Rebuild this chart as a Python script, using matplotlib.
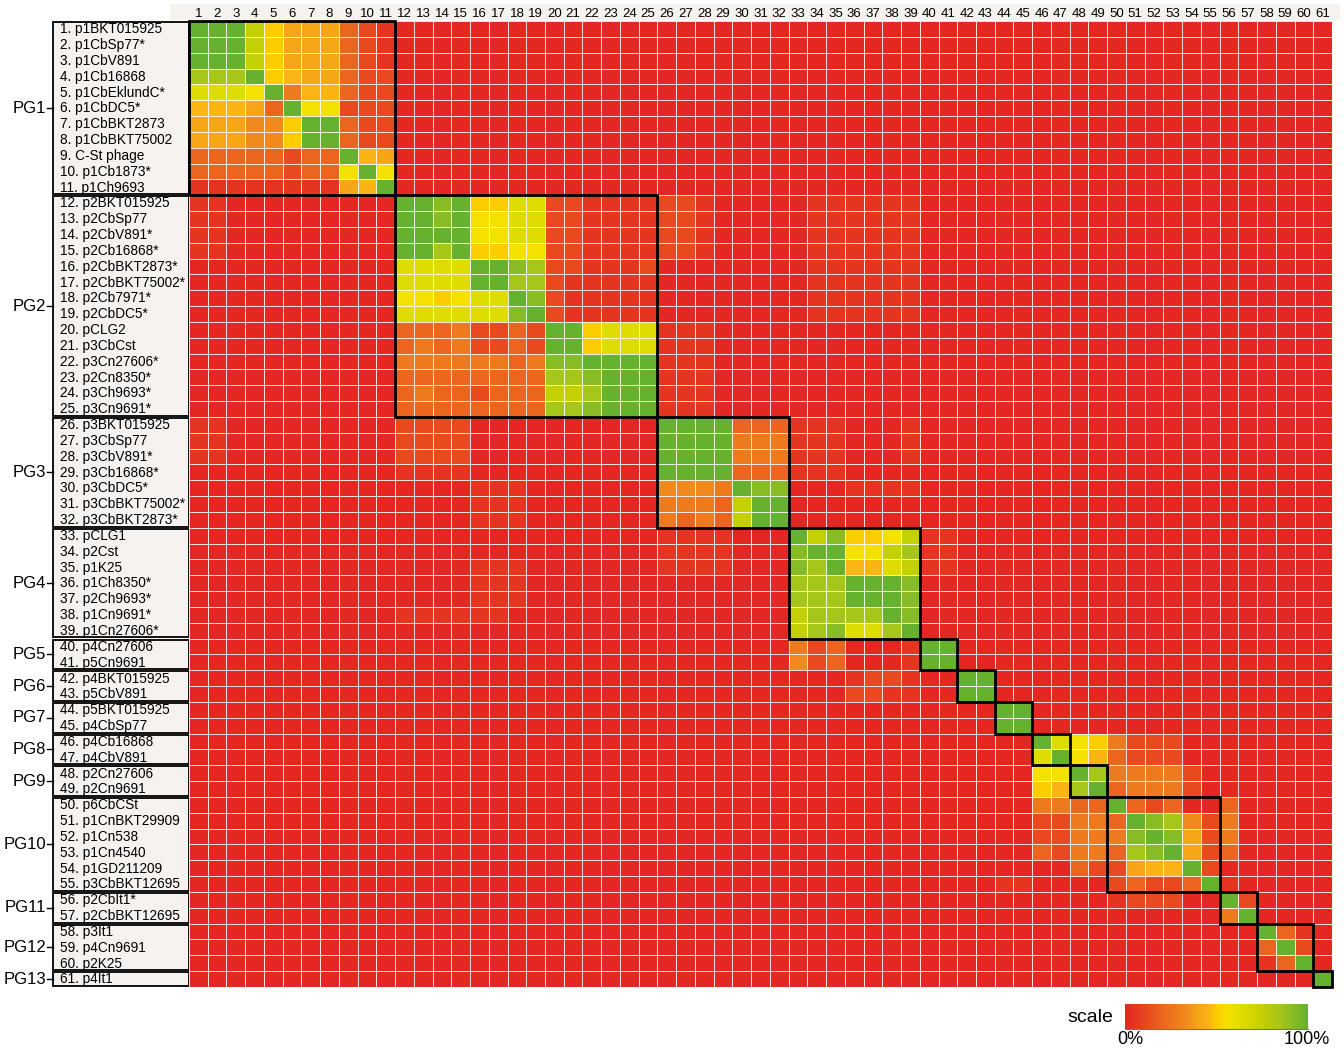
import numpy as np
import matplotlib
matplotlib.use("Agg")
import matplotlib.pyplot as plt
from matplotlib.colors import LinearSegmentedColormap
from matplotlib.patches import Rectangle

plt.rcParams['font.family'] = ['Liberation Sans', 'DejaVu Sans']

# ---------------- data ----------------
strain_names = [
    "p1BKT015925", "p1CbSp77*", "p1CbV891", "p1Cb16868", "p1CbEklundC*", "p1CbDC5*",
    "p1CbBKT2873", "p1CbBKT75002", "C-St phage", "p1Cb1873*", "p1Ch9693",
    "p2BKT015925", "p2CbSp77", "p2CbV891*", "p2Cb16868*", "p2CbBKT2873*", "p2CbBKT75002*",
    "p2Cb7971*", "p2CbDC5*", "pCLG2", "p3CbCst", "p3Cn27606*", "p2Cn8350*", "p3Ch9693*",
    "p3Cn9691*",
    "p3BKT015925", "p3CbSp77", "p3CbV891*", "p3Cb16868*", "p3CbDC5*", "p3CbBKT75002*",
    "p3CbBKT2873*",
    "pCLG1", "p2Cst", "p1K25", "p1Ch8350*", "p2Ch9693*", "p1Cn9691*", "p1Cn27606*",
    "p4Cn27606", "p5Cn9691", "p4BKT015925", "p5CbV891", "p5BKT015925", "p4CbSp77",
    "p4Cb16868", "p4CbV891", "p2Cn27606", "p2Cn9691",
    "p6CbCSt", "p1CnBKT29909", "p1Cn538", "p1Cn4540", "p1GD211209", "p3CbBKT12695",
    "p2CbIt1*", "p2CbBKT12695", "p3It1", "p4Cn9691", "p2K25", "p4It1",
]
group_names = ["PG1", "PG2", "PG3", "PG4", "PG5", "PG6", "PG7", "PG8", "PG9",
               "PG10", "PG11", "PG12", "PG13"]
group_sizes = [11, 14, 7, 7, 2, 2, 2, 2, 2, 6, 2, 3, 1]

# similarity level codes (row i, column j)
level_pct = {"0": 0, "1": 5, "2": 12, "3": 20, "4": 27, "5": 33, "6": 40, "7": 46,
             "8": 50, "9": 56, "A": 65, "B": 75, "C": 85, "D": 92, "G": 100}
level_colors = ["#E32722", "#E5351F", "#E84A1F", "#EC651F", "#EE7A1E", "#F08A1C",
                "#F5A516", "#FAB514", "#FDCC00", "#F5E100", "#DEDC00", "#C4D000",
                "#A6C61A", "#88BC24", "#66B22E"]

matrix_rows = [
 "GGGB8666321 00000000000000 0000000 0000000 00 00 00 00 00 000000 00 000 0",
 "GGGB8666321 00000000000000 0000000 0000000 00 00 00 00 00 000000 00 000 0",
 "GGGB8666321 00000000000000 0000000 0000000 00 00 00 00 00 000000 00 000 0",
 "CCCG8766322 00000000000000 0000000 0000000 00 00 00 00 00 000000 00 000 0",
 "AAA9G477322 00000000000000 0000000 0000000 00 00 00 00 00 000000 00 000 0",
 "77763G99222 00000000000000 0000000 0000000 00 00 00 00 00 000000 00 000 0",
 "666558GG322 00000000000000 0000000 0000000 00 00 00 00 00 000000 00 000 0",
 "666558GG322 00000000000000 0000000 0000000 00 00 00 00 00 000000 00 000 0",
 "33333233G76 00000000000000 0000000 0000000 00 00 00 00 00 000000 00 000 0",
 "333332339G9 00000000000000 0000000 0000000 00 00 00 00 00 000000 00 000 0",
 "1111111167G 00000000000000 0000000 0000000 00 00 00 00 00 000000 00 000 0",
 "11000000000 GGDG88AA221111 2210000 0111111 00 00 00 00 00 000000 00 000 0",
 "11000000000 GGDG99AA221111 2210000 0111111 00 00 00 00 00 000000 00 000 0",
 "11000000000 GGGG99AA221111 2210000 0111111 00 00 00 00 00 000000 00 000 0",
 "11000000000 GGCG8899221111 2210000 0111111 00 00 00 00 00 000000 00 000 0",
 "00000000000 AAAAGGDC221112 0000000 0111111 00 00 00 00 00 000000 00 000 0",
 "00000000000 AAAAGGCC211111 0000000 0111111 00 00 00 00 00 000000 00 000 0",
 "00000000000 9989AAGD211111 0000000 0111111 00 00 00 00 00 000000 00 000 0",
 "00000000000 AAAAAADG211111 0000000 0111111 00 00 00 00 00 000000 00 000 0",
 "00000000000 33342232GG8AAA 1110000 0000000 00 00 00 00 00 000000 00 000 0",
 "00000000000 34342232GG8AAA 1110000 0000000 00 00 00 00 00 000000 00 000 0",
 "00000000000 44444434DDGGGG 1110000 0000000 00 00 00 00 00 000000 00 000 0",
 "00000000000 33333333CCDGGG 1110000 0000000 00 00 00 00 00 000000 00 000 0",
 "00000000000 34332333BBCGGG 1110000 0000000 00 00 00 00 00 000000 00 000 0",
 "00000000000 33333333CCDGGG 1110000 0000000 00 00 00 00 00 000000 00 000 0",
 "11000000000 22220000000000 GGGG333 1110001 00 00 00 00 00 000000 00 000 0",
 "11000000000 22220000000000 GGGG444 1110001 00 00 00 00 00 000000 00 000 0",
 "11000000000 22220000000000 GGGG444 1110001 00 00 00 00 00 000000 00 000 0",
 "00000000000 11110000000000 GGGG333 1110000 00 00 00 00 00 000000 00 000 0",
 "00000000000 00001110000000 5554GDD 0001111 00 00 00 00 00 000000 00 000 0",
 "00000000000 00001110000000 4443BGG 0000000 00 00 00 00 00 000000 00 000 0",
 "00000000000 00001110000000 4343BGG 0000000 00 00 00 00 00 000000 00 000 0",
 "00000000000 00000000000000 1111000 GBD889B 11 00 00 00 00 000000 00 000 0",
 "00000000000 00000000000000 1111000 DGG99BC 11 00 00 00 00 000000 00 000 0",
 "00000000000 00001110000000 1111000 DCG77AB 11 00 00 00 00 000000 00 000 0",
 "00000000000 00001110000000 0000000 CCCGGGD 00 00 00 00 00 000000 00 000 0",
 "00000000000 00001110000000 0000000 CCCGGGD 00 00 00 00 00 000000 00 000 0",
 "00000000000 11111100000000 0000000 BCCCCGD 00 00 00 00 00 000000 00 000 0",
 "00000000000 00000000000000 0000000 BCDAACG 00 00 00 00 00 000000 00 000 0",
 "00000000000 00000000000000 0000000 4230001 GG 00 00 00 00 000000 00 000 0",
 "00000000000 00000000000000 0000000 5230001 GG 00 00 00 00 000000 00 000 0",
 "00000000000 00000000000000 0000000 0001221 00 GG 00 00 00 000000 00 000 0",
 "00000000000 00000000000000 0000000 0002211 00 GG 00 00 00 000000 00 000 0",
 "00000000000 00000000000000 0000000 0000000 00 00 GG 00 00 000000 00 000 0",
 "00000000000 00000000000000 0000000 0000000 00 00 GG 00 00 000000 00 000 0",
 "00000000000 00000000000000 0000000 0000000 00 00 00 GA 98 422200 00 000 0",
 "00000000000 00000000000000 0000000 0000000 00 00 00 AG 97 322200 00 000 0",
 "00000000000 00000000000000 0000000 0000000 00 00 00 99 GC 444420 00 000 0",
 "00000000000 00000000000000 0000000 0000000 00 00 00 87 CG 344420 00 000 0",
 "00000000000 00000000000000 0000000 0000000 00 00 00 44 33 G32300 30 000 0",
 "00000000000 00000000000000 0000000 0000000 00 00 00 22 44 3GDC52 40 000 0",
 "00000000000 00000000000000 0000000 0000000 00 00 00 22 44 4DGD62 40 000 0",
 "00000000000 00000000000000 0000000 0000000 00 00 00 32 44 3CDG62 30 000 0",
 "00000000000 00000000000000 0000000 0000000 00 00 00 00 32 2677G2 00 000 0",
 "00000000000 00000000000000 0000000 0000000 00 00 11 00 00 23223G 10 000 0",
 "00000000000 00000000000000 0000000 0000000 00 00 00 00 00 122200 G2 000 0",
 "00000000000 00000000000000 0000000 0000000 00 00 00 00 00 000000 4G 000 0",
 "00000000000 00000000000000 0000000 0000000 00 00 00 00 00 000000 00 G31 0",
 "00000000000 00000000000000 0000000 0000000 00 00 00 00 00 000000 00 3G2 0",
 "00000000000 00000000000000 0000000 0000000 00 00 00 00 00 000000 00 13G 0",
 "00000000000 00000000000000 0000000 0000000 00 00 00 00 00 000000 00 000 G",
]

# ---------------- build ----------------
N = len(strain_names)
values = np.array([[level_pct[c] for c in r.replace(" ", "")] for r in matrix_rows], float)
assert values.shape == (N, N)

keys = list(level_pct.keys())
cmap = LinearSegmentedColormap.from_list(
    "sim", [(level_pct[k] / 100.0, col) for k, col in zip(keys, level_colors)])

W, H = 1344, 1052
fig = plt.figure(figsize=(W / 100, H / 100), dpi=100)

def fx(px):
    return px / W

def fy(py):
    return 1 - py / H

hm_l, hm_r, hm_t, hm_b = 189, 1332, 21, 987

# beige strip behind the column numbers (background axes)
bg = fig.add_axes([fx(170), fy(20), fx(1340) - fx(170), fy(4) - fy(20)], zorder=-5)
bg.set_facecolor("#F6F2EE")
bg.set_xticks([]); bg.set_yticks([])
for s in bg.spines.values():
    s.set_visible(False)

ax = fig.add_axes([fx(hm_l), fy(hm_b), fx(hm_r) - fx(hm_l), fy(hm_t) - fy(hm_b)], zorder=2)
edges = np.arange(N + 1) + 0.5
ax.pcolormesh(edges, edges, values, cmap=cmap, vmin=0, vmax=100,
              edgecolors=(1, 1, 1, 0.85), linewidth=0.55)
ax.set_xlim(0.5, N + 0.5)
ax.set_ylim(N + 0.5, 0.5)
ax.xaxis.tick_top()
ax.set_xticks(np.arange(1, N + 1))
ax.set_xticklabels([str(i) for i in range(1, N + 1)], fontsize=9.5)
ax.tick_params(axis="x", length=0, pad=1.0, top=True, labeltop=True,
               bottom=False, labelbottom=False)
ax.set_yticks([])
for s in ax.spines.values():
    s.set_visible(False)

# group boxes on the diagonal
starts = np.concatenate([[0], np.cumsum(group_sizes)[:-1]])
for st, sz in zip(starts, group_sizes):
    ax.add_patch(Rectangle((st + 0.5, st + 0.5), sz, sz, fill=False, ec="black",
                           lw=2.0, zorder=5, clip_on=False))

# label panel
axl = fig.add_axes([fx(53), fy(hm_b), fx(hm_l) - fx(53), fy(hm_t) - fy(hm_b)], zorder=1)
axl.set_xlim(0, 1)
axl.set_ylim(N + 0.5, 0.5)
axl.axis("off")
for name, st, sz in zip(group_names, starts, group_sizes):
    axl.add_patch(Rectangle((0, st + 0.5 + 0.07), 1, sz - 0.14, fc="#F6F2EF",
                            ec="black", lw=1.3, clip_on=False))
    yc = st + 0.5 + sz / 2
    axl.plot([-0.045, 0], [yc, yc], color="black", lw=1.0, clip_on=False)
    axl.text(-0.05, yc, name, ha="right", va="center", fontsize=12)
for i, nm in enumerate(strain_names, start=1):
    axl.text(0.05, i + 0.02, f"{i}. {nm}", ha="left", va="center", fontsize=9.8)

# colour scale
cax = fig.add_axes([fx(1125), fy(1029), fx(1308) - fx(1125), fy(1004) - fy(1029)])
cax.imshow(np.linspace(0, 1, 256)[None, :], aspect="auto", cmap=cmap,
           extent=(0, 1, 0, 1))
cax.set_xticks([])
cax.set_yticks([])
for s in cax.spines.values():
    s.set_visible(False)
cax.spines["bottom"].set_visible(True)
cax.spines["bottom"].set_color("#777777")
fig.text(fx(1113), fy(1017), "scale", ha="right", va="center", fontsize=14)
fig.text(fx(1117), fy(1040), "0%", ha="left", va="center", fontsize=13)
fig.text(fx(1330), fy(1040), "100%", ha="right", va="center", fontsize=13)

fig.savefig("out.png", dpi=100)
